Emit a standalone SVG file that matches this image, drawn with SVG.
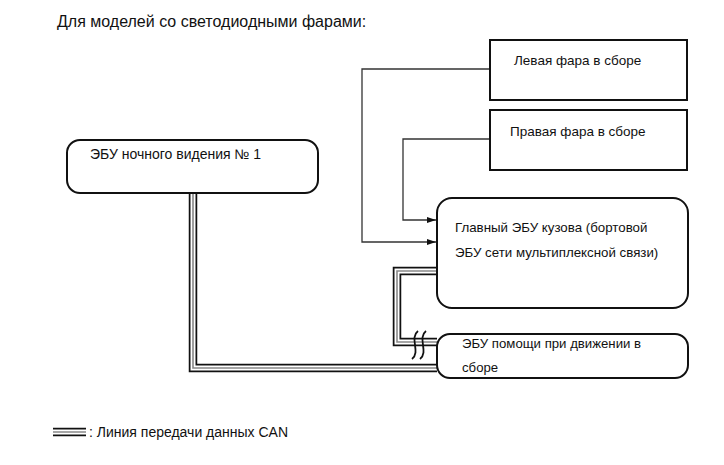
<svg xmlns="http://www.w3.org/2000/svg" width="724" height="465" viewBox="0 0 724 465">
<defs>
<style>
text{font-family:"Liberation Sans",Arial,sans-serif;font-size:13.5px;fill:#111}
.box{fill:#fff;stroke:#111;stroke-width:2}
.wire{fill:none;stroke:#333;stroke-width:1.3}
.canA{fill:none;stroke:#111;stroke-width:8.5}
.canB{fill:none;stroke:#fff;stroke-width:5}
.canC{fill:none;stroke:#888;stroke-width:1.6}
.brk{fill:none;stroke:#111;stroke-width:1.8}
</style>
<marker id="arr" markerWidth="10" markerHeight="8" refX="9" refY="4" orient="auto" markerUnits="userSpaceOnUse">
<path d="M0,1 L9,4 L0,7 Z" fill="#111"/>
</marker>
</defs>
<rect width="724" height="465" fill="#fff"/>
<text x="57" y="27" style="font-size:16px">Для моделей со светодиодными фарами:</text>

<g id="connectors">
<path class="wire" d="M490,69 H362 V242 H436" marker-end="url(#arr)"/>
<path class="wire" d="M490,139 H403 V220 H436" marker-end="url(#arr)"/>
<path class="canA" d="M193,193 V368 H437"/>
<path class="canB" d="M193,193 V368 H437"/>
<path class="canC" d="M193,193 V368 H437"/>
<path class="canA" d="M437,271 H397 V342 H437"/>
<path class="canB" d="M437,271 H397 V342 H437"/>
<path class="canC" d="M437,271 H397 V342 H437"/>
<path class="brk" d="M418,331 C409,338 421,352 412,359"/>
<path class="brk" d="M426,331 C417,338 429,352 420,359"/>
</g>

<g id="left-headlamp">
<rect class="box" x="490" y="40" width="197" height="60"/>
<text x="514" y="65">Левая фара в сборе</text>
</g>
<g id="right-headlamp">
<rect class="box" x="490" y="110" width="197" height="60"/>
<text x="510" y="136">Правая фара в сборе</text>
</g>
<g id="night-vision-ecu">
<rect class="box" x="67" y="140" width="251" height="53" rx="13"/>
<text x="90" y="159" style="font-size:14px">ЭБУ ночного видения № 1</text>
</g>
<g id="main-body-ecu">
<rect class="box" x="437" y="198" width="251" height="110" rx="15"/>
<text x="455" y="232" style="font-size:13.3px">Главный ЭБУ кузова (бортовой</text>
<text x="455" y="257" style="font-size:13.3px">ЭБУ сети мультиплексной связи)</text>
</g>
<g id="driving-support-ecu">
<rect class="box" x="437" y="334" width="251" height="44" rx="13"/>
<text x="462" y="348" style="font-size:13.2px">ЭБУ помощи при движении в</text>
<text x="462" y="372" style="font-size:13.2px">сборе</text>
</g>

<g id="legend">
<path class="canA" d="M53,432 H86"/>
<path class="canB" d="M53,432 H86"/>
<path class="canC" d="M53,432 H86"/>
<text x="89" y="437" style="font-size:14px">: Линия передачи данных CAN</text>
</g>
</svg>
